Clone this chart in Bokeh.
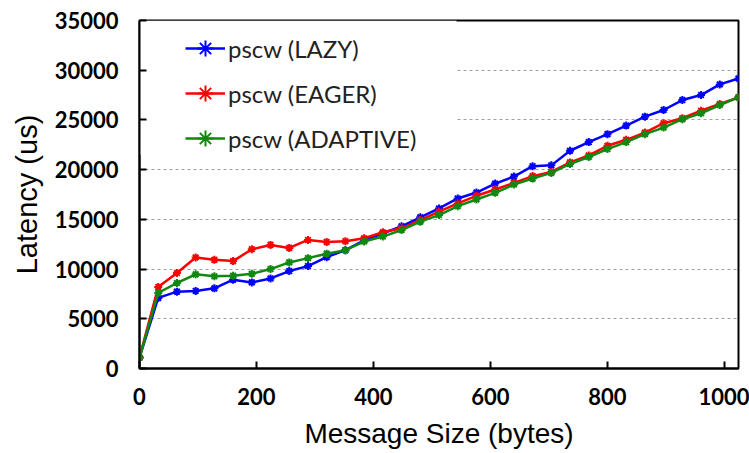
from bokeh.plotting import figure
from bokeh.embed import file_html
from bokeh.resources import INLINE
from bokeh.models import BoxAnnotation, FixedTicker, Range1d

sizes = list(range(0, 1025, 32))
lazy = [1100, 7100, 7730, 7800, 8060, 8930, 8660, 9060, 9800, 10300,
        11200, 11900, 12900, 13600, 14300, 15200, 16100, 17100, 17700, 18600,
        19300, 20350, 20430, 21900, 22770, 23570, 24430, 25330, 26000, 27000,
        27500, 28570, 29170]
eager = [1100, 8200, 9600, 11170, 10930, 10800, 12000, 12430, 12130, 12930,
         12730, 12800, 13100, 13700, 14100, 14930, 15770, 16600, 17370, 18000,
         18670, 19350, 19770, 20730, 21430, 22400, 23000, 23730, 24670, 25170,
         25930, 26600, 27270]
adaptive = [1100, 7600, 8600, 9470, 9270, 9330, 9530, 10000, 10670, 11100,
            11550, 11900, 12770, 13270, 13930, 14770, 15430, 16330, 17000, 17670,
            18500, 19100, 19670, 20570, 21270, 22070, 22770, 23570, 24230, 25070,
            25670, 26500, 27270]
series_names = ["pscw (LAZY)", "pscw (EAGER)", "pscw (ADAPTIVE)"]
series_colors = ["#0000ff", "#ff0000", "#118811"]
x_ticks = [0, 200, 400, 600, 800, 1000]
y_ticks = [0, 5000, 10000, 15000, 20000, 25000, 30000, 35000]

p = figure(width=749, height=453, output_backend="svg", toolbar_location=None,
           x_range=Range1d(0, 1024), y_range=Range1d(0, 35000),
           min_border_left=139, min_border_right=11, min_border_top=20, min_border_bottom=85)
p.background_fill_color = "white"
p.border_fill_color = "white"
p.outline_line_color = "black"
p.outline_line_width = 2

p.xgrid.grid_line_color = None
p.ygrid.grid_line_color = "#a0a0a0"
p.ygrid.grid_line_dash = "3 3"
p.ygrid.grid_line_width = 1
p.ygrid.ticker = FixedTicker(ticks=y_ticks)

# white area behind legend hides the grid there
p.add_layout(BoxAnnotation(left=0, right=542, bottom=21500, top=35000,
                           fill_color="white", fill_alpha=1, line_color=None,
                           level="underlay"))

for ys, name, col in zip([lazy, eager, adaptive], series_names, series_colors):
    p.line(sizes, ys, line_color=col, line_width=2.5, legend_label=name)
    p.scatter(sizes, ys, marker="asterisk", size=8, line_color=col, line_width=2,
              legend_label=name)

for ax, ticks in ((p.xaxis, x_ticks), (p.yaxis, y_ticks)):
    ax.ticker = FixedTicker(ticks=ticks)
    ax.axis_line_color = "black"
    ax.axis_line_width = 2
    ax.major_tick_in = 7
    ax.major_tick_out = 0
    ax.major_tick_line_width = 2
    ax.major_tick_line_color = "black"
    ax.minor_tick_line_color = None
    ax.major_label_text_font = "Lato"
    ax.major_label_text_font_style = "bold"
    ax.major_label_text_font_size = "22px"
    ax.major_label_text_color = "black"
    ax.axis_label_text_font = "Liberation Sans"
    ax.axis_label_text_font_style = "normal"
    ax.axis_label_text_color = "black"

p.xaxis.axis_label = "Message Size (bytes)"
p.yaxis.axis_label = "Latency (us)"
p.xaxis.axis_label_text_font_size = "28px"
p.yaxis.axis_label_text_font_size = "29px"
p.xaxis.major_label_standoff = 19
p.yaxis.major_label_standoff = 21
p.xaxis.axis_label_standoff = 10
p.yaxis.axis_label_standoff = 9

lg = p.legend[0]
lg.location = (46, 209)
lg.margin = 0
lg.padding = 0
lg.spacing = 3
lg.glyph_width = 40
lg.glyph_height = 42
lg.label_height = 42
lg.label_standoff = 3
lg.label_text_font = "Lato"
lg.label_text_font_size = "24px"
lg.label_text_color = "#222222"
lg.background_fill_alpha = 0
lg.border_line_color = None

open("out.html", "w").write(file_html(p, INLINE))
